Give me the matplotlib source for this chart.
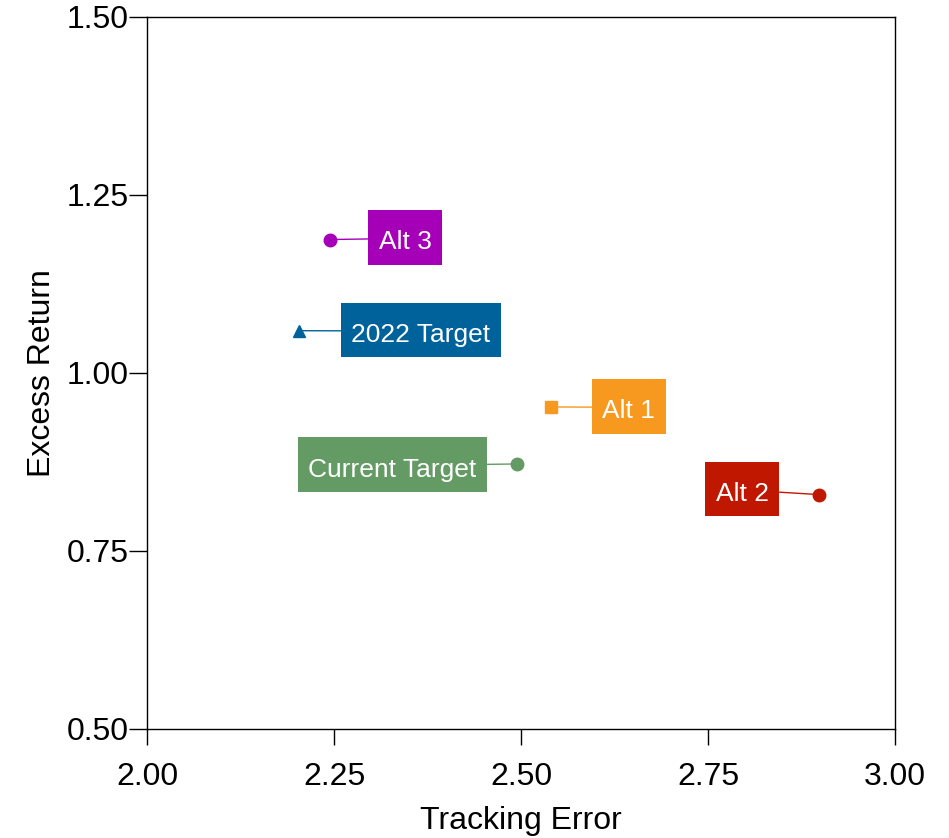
import numpy as np
import matplotlib.pyplot as plt
from matplotlib.path import Path

plt.rcParams['font.family'] = ['Liberation Sans', 'DejaVu Sans']

# data
names = ['Alt 3', '2022 Target', 'Alt 1', 'Current Target', 'Alt 2']
tracking_error = [2.245, 2.203, 2.540, 2.495, 2.898]
excess_return = [1.187, 1.059, 0.952, 0.872, 0.829]
markers = ['o', '^', 's', 'o', 'o']
colors = ['#A500B8', '#00629B', '#F7981F', '#649A64', '#C01700']
# label text centres (data coords)
label_x = [2.345, 2.366, 2.644, 2.328, 2.796]
label_y = [1.183, 1.053, 0.946, 0.864, 0.830]


def label_box(x0, y0, width, height, mutation_size):
    # text sits a little low in the original boxes
    px = 0.40 * mutation_size
    bottom = 0.39 * mutation_size
    top = 0.77 * mutation_size
    return Path([(x0 - px, y0 - bottom), (x0 + width + px, y0 - bottom),
                 (x0 + width + px, y0 + height + top), (x0 - px, y0 + height + top),
                 (x0 - px, y0 - bottom)], closed=True)


fig = plt.figure(figsize=(9.49, 8.38), dpi=100)
ax = fig.add_axes([0.1549, 0.1301, 0.7882, 0.8502])

for i in range(len(names)):
    ax.plot(tracking_error[i], excess_return[i], marker=markers[i], color=colors[i],
            markersize=9, linestyle='none', zorder=3)
    ax.annotate(names[i], xy=(tracking_error[i], excess_return[i]),
                xytext=(label_x[i], label_y[i]), ha='center', va='center',
                fontsize=19, color='white',
                bbox=dict(boxstyle=label_box, fc=colors[i], ec='none'),
                arrowprops=dict(arrowstyle='-', color=colors[i], lw=1,
                                relpos=(0.5, 0.665), shrinkA=0, shrinkB=0))

ax.set_xlim(2.0, 3.0)
ax.set_ylim(0.5, 1.5)
ax.set_xticks([2.0, 2.25, 2.5, 2.75, 3.0])
ax.set_yticks([0.5, 0.75, 1.0, 1.25, 1.5])
ax.xaxis.set_major_formatter(plt.FormatStrFormatter('%.2f'))
ax.yaxis.set_major_formatter(plt.FormatStrFormatter('%.2f'))
ax.tick_params(direction='out', width=1, labelsize=23)
ax.tick_params(axis='x', length=11.5, pad=12)
ax.tick_params(axis='y', length=13, pad=0.5)
ax.set_xlabel('Tracking Error', fontsize=23, labelpad=10)
ax.set_ylabel('Excess Return', fontsize=23, labelpad=6.5)
for s in ax.spines.values():
    s.set_linewidth(1)

fig.savefig('out.png', dpi=100)
